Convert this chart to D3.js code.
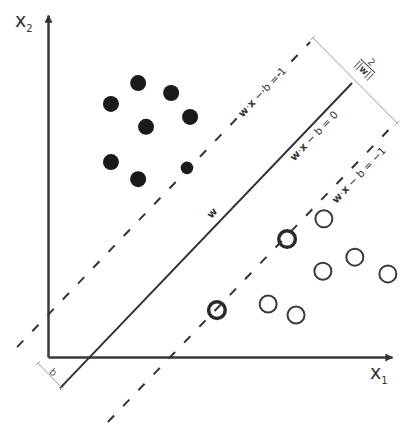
<!DOCTYPE html>
<html>
<head>
<meta charset="utf-8">
<script src="https://cdn.jsdelivr.net/npm/d3@7"></script>
<style>
  html, body { margin: 0; padding: 0; background: #fff; }
  svg { display: block; font-family: "DejaVu Sans", "Liberation Sans", sans-serif; }
</style>
</head>
<body>
<div id="chart"></div>
<script>
// points of class +1 (filled) and -1 (open), in data units
const classA = [[2.62, 8.01], [3.58, 7.72], [1.83, 7.40], [4.13, 7.02], [2.85, 6.73], [1.83, 5.70], [2.62, 5.20]];
const supportA = [[4.04, 5.53]];
const classB = [[8.02, 4.04], [8.92, 2.92], [7.99, 2.51], [9.88, 2.43], [6.40, 1.55], [7.21, 1.23]];
const supportB = [[6.95, 3.45], [4.91, 1.37]];

// hyperplanes: w·x - b = c, given by their two end points
const planeValues = ["1", "0", "−1"];
const planeEnds = [
  [[-0.90, 0.29], [7.62, 9.21]],
  [[0.35, -0.91], [8.84, 8.01]],
  [[1.74, -1.90], [10.12, 6.87]]
];

// dimension lines: margin (2/||w||) and offset (b)
const marginEnds = [[7.70, 9.33], [10.15, 6.84]];
const offsetEnds = [[-0.29, -0.18], [0.41, -0.91]];

const axisLabels = ["x", "x"];
const axisSubs = ["1", "2"];

const width = 400, height = 433;
const x = d3.scaleLinear().domain([0, 10]).range([48, 392]);
const y = d3.scaleLinear().domain([0, 10]).range([357, 15]);

const svg = d3.select("#chart").append("svg")
  .attr("width", width).attr("height", height)
  .attr("viewBox", `0 0 ${width} ${height}`);

svg.append("defs").append("marker")
  .attr("id", "arrow")
  .attr("viewBox", "0 0 10 10")
  .attr("refX", 9).attr("refY", 5)
  .attr("markerUnits", "userSpaceOnUse")
  .attr("markerWidth", 10).attr("markerHeight", 8)
  .attr("orient", "auto")
  .append("path").attr("d", "M0,0L10,5L0,10z").attr("fill", "#333");

// axes without ticks
const xAxis = svg.append("g")
  .attr("transform", `translate(0,${y(0)})`)
  .call(d3.axisBottom(x).tickValues([]).tickSizeOuter(0));
const yAxis = svg.append("g")
  .attr("transform", `translate(${x(0)},0)`)
  .call(d3.axisLeft(y).tickValues([]).tickSizeOuter(0));
[xAxis, yAxis].forEach(g => g.select(".domain")
  .attr("stroke", "#3a3a3a").attr("stroke-width", 2.5)
  .attr("marker-end", "url(#arrow)"));

// hyperplane lines
const angle = Math.atan2(y(planeEnds[1][1][1]) - y(planeEnds[1][0][1]),
                         x(planeEnds[1][1][0]) - x(planeEnds[1][0][0])) * 180 / Math.PI;

svg.append("g").selectAll("line")
  .data(planeEnds)
  .join("line")
  .attr("x1", d => x(d[0][0])).attr("y1", d => y(d[0][1]))
  .attr("x2", d => x(d[1][0])).attr("y2", d => y(d[1][1]))
  .attr("stroke", "#333")
  .attr("stroke-width", 2)
  .attr("stroke-dasharray", (d, i) => i === 1 ? null : "9,13");

// dimension lines with end ticks
function dimLine(ends) {
  const p = ends.map(d => [x(d[0]), y(d[1])]);
  const g = svg.append("g").attr("stroke", "#9a9a9a").attr("stroke-width", 1);
  g.append("line")
    .attr("x1", p[0][0]).attr("y1", p[0][1])
    .attr("x2", p[1][0]).attr("y2", p[1][1]);
  const dx = p[1][0] - p[0][0], dy = p[1][1] - p[0][1];
  const len = Math.hypot(dx, dy);
  const nx = -dy / len * 3, ny = dx / len * 3;
  p.forEach(q => g.append("line")
    .attr("x1", q[0] - nx).attr("y1", q[1] - ny)
    .attr("x2", q[0] + nx).attr("y2", q[1] + ny));
}
dimLine(marginEnds);
dimLine(offsetEnds);

// points
svg.append("g").selectAll("circle")
  .data(classA).join("circle")
  .attr("cx", d => x(d[0])).attr("cy", d => y(d[1]))
  .attr("r", 8).attr("fill", "#1a1a1a");
svg.append("g").selectAll("circle")
  .data(supportA).join("circle")
  .attr("cx", d => x(d[0])).attr("cy", d => y(d[1]))
  .attr("r", 6.3).attr("fill", "#1a1a1a");
svg.append("g").selectAll("circle")
  .data(classB).join("circle")
  .attr("cx", d => x(d[0])).attr("cy", d => y(d[1]))
  .attr("r", 8.5).attr("fill", "none").attr("stroke", "#3a3a3a").attr("stroke-width", 2);
svg.append("g").selectAll("circle")
  .data(supportB).join("circle")
  .attr("cx", d => x(d[0])).attr("cy", d => y(d[1]))
  .attr("r", 8.3).attr("fill", "none").attr("stroke", "#2a2a2a").attr("stroke-width", 3.5);

// hyperplane labels
const labelT = [0.836, 0.847, 0.846];
const labelDy = [0, 9, 10];
planeEnds.forEach((e, i) => {
  const px = x(e[0][0] + (e[1][0] - e[0][0]) * labelT[i]);
  const py = y(e[0][1] + (e[1][1] - e[0][1]) * labelT[i]);
  const t = svg.append("text")
    .attr("transform", `translate(${px},${py}) rotate(${angle})`)
    .attr("text-anchor", "middle")
    .attr("dy", labelDy[i] + 3.5)
    .attr("font-size", 10.5)
    .attr("fill", "#333")
    .attr("stroke", i === 0 ? "#fff" : null)
    .attr("stroke-width", i === 0 ? 4 : null)
    .attr("paint-order", "stroke");
  t.append("tspan").attr("font-weight", "bold").text("w");
  t.append("tspan").text("·");
  t.append("tspan").attr("font-weight", "bold").text("x");
  t.append("tspan").text(` − b = ${planeValues[i]}`);
});

// vector w label
svg.append("text")
  .attr("transform", `translate(${x(4.77)},${y(4.21)}) rotate(${angle})`)
  .attr("text-anchor", "middle").attr("dy", 3.5)
  .attr("font-size", 10.5).attr("font-weight", "bold").attr("fill", "#333")
  .text("w");

// margin fraction 2/||w||
const frac = svg.append("g")
  .attr("transform", `translate(${x(9.30)},${y(8.51)}) rotate(${angle + 90})`)
  .attr("fill", "#444").attr("font-size", 9.5).attr("text-anchor", "middle");
frac.append("text").attr("y", -2).text("2");
frac.append("line").attr("x1", -10).attr("x2", 10).attr("y1", 0).attr("y2", 0)
  .attr("stroke", "#444").attr("stroke-width", 1);
frac.append("text").attr("y", 9).append("tspan").text("||")
  .append("tspan").attr("font-weight", "bold").text("w")
  .append("tspan").attr("font-weight", "normal").text("||");

// offset label b
svg.append("text")
  .attr("transform", `translate(${x(0.15)},${y(-0.44)}) rotate(${angle + 90})`)
  .attr("text-anchor", "middle").attr("dy", 3.5)
  .attr("font-size", 10).attr("fill", "#555")
  .text("b");

// axis labels
const axisPos = [[x(10) - 22, y(0) + 22], [x(0) - 33, y(10) + 12]];
axisPos.forEach((p, i) => {
  const t = svg.append("text")
    .attr("x", p[0]).attr("y", p[1])
    .attr("font-size", 19).attr("fill", "#333")
    .text(axisLabels[i]);
  t.append("tspan").attr("font-size", 10).attr("dy", 5).text(axisSubs[i]);
});
</script>
</body>
</html>
